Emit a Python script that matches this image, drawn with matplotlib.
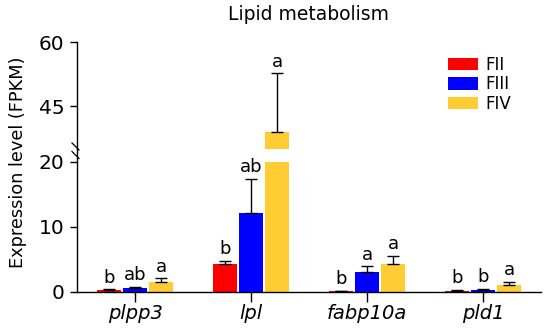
import matplotlib
matplotlib.use("Agg")
import matplotlib.pyplot as plt
import numpy as np

plt.rcParams['font.family'] = ['DejaVu Sans']

genes = ["plpp3", "lpl", "fabp10a", "pld1"]
groups = ["FII", "FIII", "FIV"]
colors = ["#FF0000", "#0000FF", "#FFCC33"]
values = {
    "FII":  [0.2, 4.2, 0.05, 0.15],
    "FIII": [0.6, 12.1, 3.05, 0.3],
    "FIV":  [1.5, 39.0, 4.3, 1.1],
}
errors = {
    "FII":  [0.15, 0.6, 0.05, 0.1],
    "FIII": [0.2, 5.2, 0.85, 0.1],
    "FIV":  [0.55, 13.7, 1.2, 0.4],
}
letters = {
    "FII":  ["b", "b", "b", "b"],
    "FIII": ["ab", "ab", "a", "b"],
    "FIV":  ["a", "a", "a", "a"],
}

W, H = 550, 331
fig = plt.figure(figsize=(W / 100, H / 100), dpi=100)
xl, xr = 77 / W, 541 / W
ax_hi = fig.add_axes([xl, 1 - 149.3 / H, xr - xl, (149.3 - 42) / H])
ax_lo = fig.add_axes([xl, 1 - 291.7 / H, xr - xl, (291.7 - 161.7) / H])

x = np.arange(len(genes))
bw = 0.212
step = 0.224
for ax in (ax_hi, ax_lo):
    for i, g in enumerate(groups):
        pos = x + (i - 1) * step
        ax.bar(pos, values[g], width=bw, color=colors[i], label=g, zorder=2)
        ax.errorbar(pos, values[g], yerr=[np.zeros(len(genes)), errors[g]],
                    fmt="none", ecolor="black", elinewidth=1.0, capsize=4.5,
                    capthick=1.0, zorder=3)
    ax.set_xlim(-0.5, 3.5)
    for s in ("top", "right"):
        ax.spines[s].set_visible(False)
    ax.spines["left"].set_linewidth(1.0)
    ax.tick_params(axis="y", direction="out", length=5, width=1.0, labelsize=14.5, pad=4)

ax_lo.set_ylim(0, 20)
ax_lo.set_yticks([0, 10, 20])
ax_hi.set_ylim(35, 60)
ax_hi.set_yticks([45, 60])
ax_hi.spines["bottom"].set_visible(False)
ax_hi.set_xticks([])
ax_lo.spines["bottom"].set_linewidth(1.0)
ax_lo.set_xticks(x)
ax_lo.set_xticklabels(genes, fontsize=14, style="italic")
ax_lo.tick_params(axis="x", direction="out", length=7, width=1.0, pad=2)

# letters
for i, g in enumerate(groups):
    for j in range(len(genes)):
        top = values[g][j] + errors[g][j]
        ax = ax_hi if top > 20 else ax_lo
        ax.annotate(letters[g][j], (x[j] + (i - 1) * step, top),
                    xytext=(0, 2), textcoords="offset points",
                    ha="center", va="bottom", fontsize=13, zorder=4)

# continuous spine across the break and break marks
fig.add_artist(plt.Line2D([xl, xl], [1 - 161.7 / H, 1 - 149.3 / H],
                          color="black", lw=1.0, transform=fig.transFigure))
for yc in (146.5, 155.0):
    fig.add_artist(plt.Line2D([72 / W, 79 / W],
                              [1 - (yc - 3.5) / H, 1 - (yc + 3.5) / H],
                              color="black", lw=0.9, transform=fig.transFigure))

fig.text((xl + xr) / 2, 1 - 15 / H, "Lipid metabolism", ha="center", va="center",
         fontsize=13.5)
fig.text(18 / W, 1 - 162 / H, "Expression level (FPKM)", rotation=90,
         ha="center", va="center", fontsize=12.8)

ax_hi.legend(loc="upper left", bbox_to_anchor=((448 - 77) / (541 - 77), 1 - (56 - 42) / (149.3 - 42)),
             frameon=False, fontsize=12, handlelength=1.8, handleheight=0.75,
             handletextpad=0.45, labelspacing=0.08, borderpad=0, borderaxespad=0)

fig.savefig("out.png", dpi=100)
